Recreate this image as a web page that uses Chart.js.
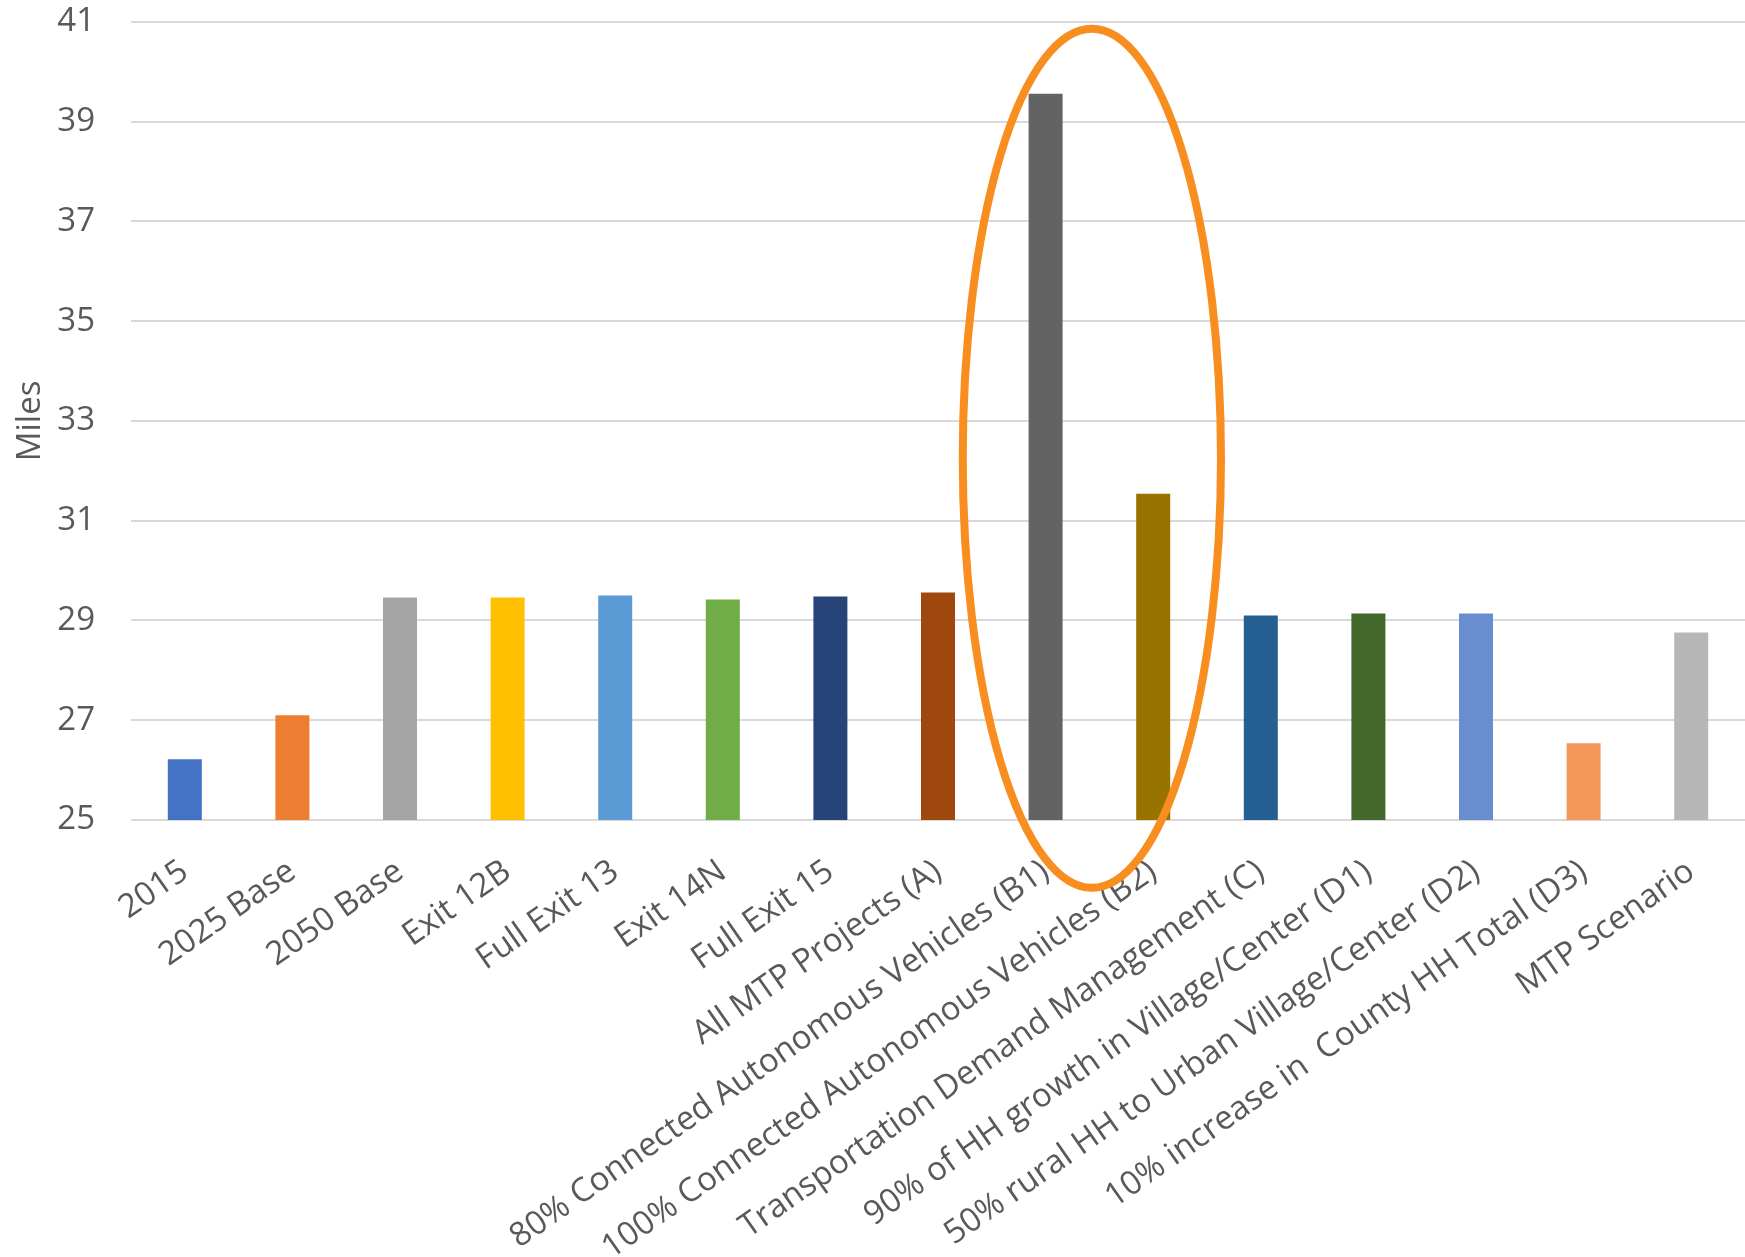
<!DOCTYPE html>
<html>
<head>
<meta charset="utf-8">
<script src="https://cdn.jsdelivr.net/npm/chart.js"></script>
<style>
  html, body { margin: 0; padding: 0; background: #fff; }
  #wrap { width: 1745px; height: 1257px; }
</style>
</head>
<body>
<div id="wrap"><canvas id="barChart" width="1745" height="1257"></canvas></div>
<script>
var categories = [
    '2015', '2025 Base', '2050 Base', 'Exit 12B', 'Full Exit 13', 'Exit 14N', 'Full Exit 15',
    'All MTP Projects (A)',
    '80% Connected Autonomous Vehicles (B1)',
    '100% Connected Autonomous Vehicles (B2)',
    'Transportation Demand Management (C)',
    '90% of HH growth in Village/Center (D1)',
    '50% rural HH to Urban Village/Center (D2)',
    '10% increase in  County HH Total (D3)',
    'MTP Scenario'
];
var miles = [26.22, 27.1, 29.46, 29.46, 29.5, 29.42, 29.48, 29.56, 39.56, 31.54, 29.1, 29.14, 29.14, 26.54, 28.76];
var barColors = ['#4472C4', '#ED7D31', '#A5A5A5', '#FFC000', '#5B9BD5', '#70AD47', '#264478', '#9E480E',
                 '#636363', '#997300', '#255E91', '#43682B', '#698ED0', '#F1975A', '#B7B7B7'];
var yMin = 25, yMax = 41, yStep = 2;

// orange ring drawn around the two connected-vehicle scenarios
var highlight = {
    id: 'highlight',
    afterDraw: function (chart) {
        var x = chart.scales.x, y = chart.scales.y, c = chart.ctx;
        var step = x.getPixelForValue(9) - x.getPixelForValue(8);
        var cx = x.getPixelForValue(8) + 0.43 * step;
        var top = y.getPixelForValue(40.86), bottom = y.getPixelForValue(23.64);
        c.save();
        c.beginPath();
        c.ellipse(cx, (top + bottom) / 2, 1.2 * step, (bottom - top) / 2, 0, 0, Math.PI * 2);
        c.lineWidth = 8;
        c.strokeStyle = '#F78E1F';
        c.stroke();
        c.restore();
    }
};

var ctx = document.getElementById('barChart').getContext('2d');
var myChart = new Chart(ctx, {
    type: 'bar',
    data: {
        labels: categories,
        datasets: [{
            label: 'Miles',
            data: miles,
            backgroundColor: barColors,
            borderWidth: 0,
            barPercentage: 0.316,
            categoryPercentage: 1
        }]
    },
    options: {
        responsive: false,
        animation: false,
        devicePixelRatio: 1,
        layout: { padding: 0 },
        plugins: {
            legend: { display: false },
            tooltip: { enabled: false }
        },
        scales: {
            x: {
                grid: { display: false },
                border: { display: false },
                ticks: {
                    color: '#595959',
                    font: { family: 'Open Sans', size: 33 },
                    minRotation: 35,
                    maxRotation: 35,
                    autoSkip: false,
                    padding: 24
                },
                afterFit: function (scale) { scale.height = 437; }
            },
            y: {
                min: yMin,
                max: yMax,
                grid: { color: '#D9D9D9', lineWidth: 2, drawTicks: true, tickLength: 34, tickColor: 'rgba(0,0,0,0)' },
                border: { display: false },
                ticks: {
                    stepSize: yStep,
                    color: '#595959',
                    font: { family: 'Open Sans', size: 33 },
                    padding: 2
                },
                title: {
                    display: true,
                    text: 'Miles',
                    color: '#595959',
                    font: { family: 'Open Sans', size: 33 },
                    padding: { top: 11, bottom: 0 }
                },
                afterFit: function (scale) { scale.width = 131; }
            }
        }
    },
    plugins: [highlight]
});
</script>
</body>
</html>
